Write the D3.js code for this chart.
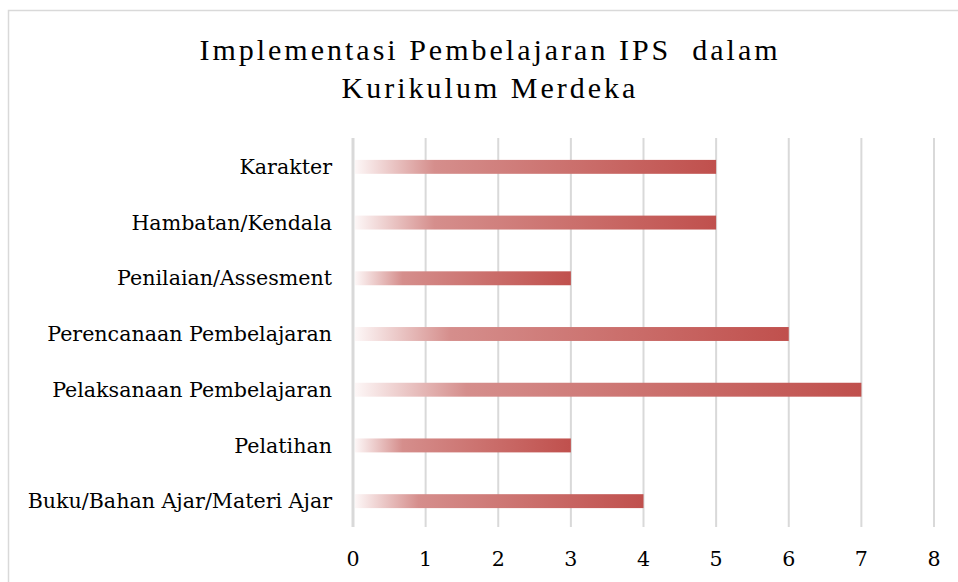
<!DOCTYPE html>
<html>
<head>
<meta charset="utf-8">
<script src="https://cdn.jsdelivr.net/npm/d3@7"></script>
<style>
  body { margin: 0; background: #fff; }
  svg { display: block; }
</style>
</head>
<body>
<div id="chart"></div>
<script>
// chart data, top bar first
const categories = [
  "Karakter",
  "Hambatan/Kendala",
  "Penilaian/Assesment",
  "Perencanaan Pembelajaran",
  "Pelaksanaan Pembelajaran",
  "Pelatihan",
  "Buku/Bahan Ajar/Materi Ajar"
];
const values = [5, 5, 3, 6, 7, 3, 4];
const xTicks = [0, 1, 2, 3, 4, 5, 6, 7, 8];
const titleLines = ["Implementasi Pembelajaran IPS  dalam", "Kurikulum Merdeka"];

const width = 958;
const height = 582;
const titleFont = "'Liberation Serif', serif";
const labelFont = "'DejaVu Serif', 'Liberation Serif', serif";

const svg = d3.select("#chart")
  .append("svg")
    .attr("width", width)
    .attr("height", height);

// outer chart frame
svg.append("rect")
  .attr("x", 8.5)
  .attr("y", 10.5)
  .attr("width", 970)
  .attr("height", 600)
  .attr("fill", "#fff")
  .attr("stroke", "#d9d9d9")
  .attr("stroke-width", 1.5);

// bar gradient, white -> red like the office fill
const defs = svg.append("defs");
const grad = defs.append("linearGradient")
  .attr("id", "barGrad")
  .attr("x1", "0%").attr("x2", "100%")
  .attr("y1", "0%").attr("y2", "0%");
grad.append("stop").attr("offset", "0%").attr("stop-color", "#fdf7f7");
grad.append("stop").attr("offset", "22%").attr("stop-color", "#d58e8c");
grad.append("stop").attr("offset", "60%").attr("stop-color", "#cb706d");
grad.append("stop").attr("offset", "100%").attr("stop-color", "#c0504d");

const x = d3.scaleLinear()
  .domain([0, 8])
  .range([353, 934]);

const y = d3.scaleBand()
  .domain(categories)
  .range([139, 529])
  .paddingInner(0.75)
  .paddingOuter(0.375);

// gridlines
svg.append("g")
  .selectAll("line")
  .data(xTicks)
  .join("line")
    .attr("x1", d => x(d))
    .attr("x2", d => x(d))
    .attr("y1", 138)
    .attr("y2", 527)
    .attr("stroke", "#d9d9d9")
    .attr("stroke-width", d => d === 0 ? 3 : 2);

// bars
svg.append("g")
  .selectAll("rect")
  .data(values)
  .join("rect")
    .attr("x", x(0) + 2)
    .attr("y", (d, i) => y(categories[i]))
    .attr("width", d => x(d) - x(0) - 2)
    .attr("height", y.bandwidth())
    .attr("fill", "url(#barGrad)");

// category labels
svg.append("g")
  .selectAll("text")
  .data(categories)
  .join("text")
    .attr("x", 332)
    .attr("y", d => y(d) + y.bandwidth() / 2)
    .attr("dy", "0.35em")
    .attr("text-anchor", "end")
    .attr("font-family", labelFont)
    .attr("font-size", 20.6)
    .attr("fill", "#000")
    .text(d => d);

// x tick labels
svg.append("g")
  .selectAll("text")
  .data(xTicks)
  .join("text")
    .attr("x", d => x(d))
    .attr("y", 566)
    .attr("text-anchor", "middle")
    .attr("font-family", labelFont)
    .attr("font-size", 20.6)
    .attr("fill", "#000")
    .text(d => d);

// title
svg.append("g")
  .selectAll("text")
  .data(titleLines)
  .join("text")
    .attr("x", 490)
    .attr("y", (d, i) => 60 + i * 38)
    .attr("text-anchor", "middle")
    .attr("font-family", titleFont)
    .attr("font-size", 30)
    .attr("letter-spacing", 3)
    .attr("fill", "#000")
    .style("white-space", "pre")
    .text(d => d);
</script>
</body>
</html>
